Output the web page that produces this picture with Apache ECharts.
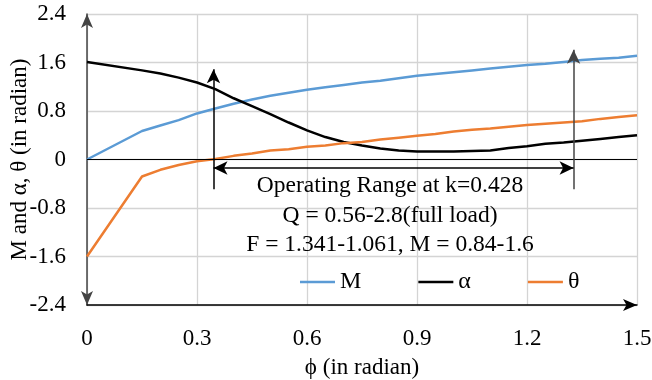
<!DOCTYPE html>
<html>
<head>
<meta charset="utf-8">
<script src="https://cdn.jsdelivr.net/npm/echarts@6/dist/echarts.min.js"></script>
<style>
html,body{margin:0;padding:0;background:#fff;}
#main{width:652px;height:380px;}
</style>
</head>
<body>
<div id="main"></div>
<script>
var phi = [0, 0.15, 0.2, 0.25, 0.3, 0.35, 0.4, 0.45, 0.5, 0.55, 0.6, 0.65, 0.7, 0.75, 0.8, 0.85, 0.9, 0.95, 1.0, 1.05, 1.1, 1.15, 1.2, 1.25, 1.3, 1.35, 1.4, 1.45, 1.5];
var mVals = [0, 0.47, 0.56, 0.65, 0.76, 0.84, 0.92, 0.99, 1.05, 1.10, 1.15, 1.19, 1.23, 1.27, 1.30, 1.34, 1.38, 1.41, 1.44, 1.47, 1.50, 1.53, 1.56, 1.58, 1.61, 1.64, 1.66, 1.68, 1.71];
var alphaVals = [1.61, 1.47, 1.42, 1.35, 1.27, 1.16, 1.01, 0.88, 0.75, 0.61, 0.48, 0.37, 0.29, 0.23, 0.18, 0.15, 0.13, 0.13, 0.13, 0.14, 0.15, 0.19, 0.22, 0.26, 0.28, 0.31, 0.34, 0.37, 0.40];
var thetaVals = [-1.6, -0.28, -0.17, -0.09, -0.03, 0.01, 0.06, 0.10, 0.15, 0.17, 0.21, 0.23, 0.27, 0.29, 0.33, 0.36, 0.39, 0.42, 0.46, 0.49, 0.51, 0.54, 0.57, 0.59, 0.61, 0.63, 0.67, 0.70, 0.73];

// operating range annotation (phi start/end, arrow levels)
var rangePhi = [0.345, 1.327];
var arrowBottom = -0.49;
var arrowTops = [1.49, 1.81];
var rangeLevel = -0.14;
var noteLines = ["Operating Range at k=0.428", "Q = 0.56-2.8(full load)", "F = 1.341-1.061, M = 0.84-1.6"];

var font = "'Liberation Serif', 'Times New Roman', serif";

function pairs(ys) {
    return phi.map(function (x, i) { return [x, ys[i]]; });
}

var chart = echarts.init(document.getElementById("main"));
chart.setOption({
    animation: false,
    grid: {
        left: 87,
        right: 15,
        top: 14,
        bottom: 75,
        outerBoundsMode: "none",
        containLabel: false
    },
    legend: {
        left: 295,
        top: 265,
        icon: "rect",
        itemWidth: 35,
        itemHeight: 2.5,
        itemGap: 57,
        textStyle: { fontFamily: font, fontSize: 24, color: "#000" },
        data: ["M", "α", "θ"]
    },
    xAxis: {
        type: "value",
        min: 0,
        max: 1.5,
        interval: 0.3,
        name: "ϕ (in radian)",
        nameLocation: "middle",
        nameGap: 51,
        nameMoveOverlap: false,
        nameTextStyle: { fontFamily: font, fontSize: 23, color: "#000" },
        axisLine: {
            onZero: false,
            symbol: ["none", "arrow"],
            symbolSize: [9, 14],
            lineStyle: { color: "#000", width: 1.5 }
        },
        axisTick: { show: false },
        axisLabel: { fontFamily: font, fontSize: 23, color: "#000", margin: 22 },
        splitLine: { lineStyle: { color: "#d4d4d4", width: 1.3 } }
    },
    yAxis: {
        type: "value",
        min: -2.4,
        max: 2.4,
        interval: 0.8,
        name: "M and α, θ (in radian)",
        nameLocation: "middle",
        nameGap: 56,
        nameMoveOverlap: false,
        nameTextStyle: { fontFamily: font, fontSize: 23, color: "#000" },
        axisLine: {
            show: true,
            onZero: false,
            symbol: ["arrow", "arrow"],
            symbolSize: [9, 14],
            lineStyle: { color: "#444", width: 1.5 }
        },
        axisTick: { show: false },
        axisLabel: { fontFamily: font, fontSize: 23, color: "#000", margin: 21 },
        splitLine: { lineStyle: { color: "#d4d4d4", width: 1.3 } }
    },
    series: [
        {
            name: "M",
            type: "line",
            data: pairs(mVals),
            showSymbol: false,
            lineStyle: { color: "#5B9BD5", width: 2.5 },
            itemStyle: { color: "#5B9BD5" }
        },
        {
            name: "α",
            type: "line",
            data: pairs(alphaVals),
            showSymbol: false,
            lineStyle: { color: "#000", width: 2.5 },
            itemStyle: { color: "#000" },
            markLine: {
                silent: true,
                symbol: "none",
                label: { show: false },
                lineStyle: { color: "#000", width: 1.2, type: "solid" },
                data: [[{ coord: [0, 0] }, { coord: [1.5, 0] }]]
            }
        },
        {
            name: "θ",
            type: "line",
            data: pairs(thetaVals),
            showSymbol: false,
            lineStyle: { color: "#ED7D31", width: 2.5 },
            itemStyle: { color: "#ED7D31" },
            markLine: {
                silent: true,
                symbol: ["none", "arrow"],
                symbolSize: [10, 14],
                label: { show: false },
                lineStyle: { color: "#000", width: 1.5, type: "solid" },
                data: [
                    [{ coord: [rangePhi[0], arrowBottom] }, { coord: [rangePhi[0], arrowTops[0]] }],
                    [{ coord: [rangePhi[1], arrowBottom], lineStyle: { color: "#444" } }, { coord: [rangePhi[1], arrowTops[1]] }],
                    [{ coord: [rangePhi[0], rangeLevel], symbol: "arrow" }, { coord: [rangePhi[1], rangeLevel] }]
                ]
            }
        }
    ],
    graphic: noteLines.map(function (t, i) {
        return {
            type: "text",
            x: 390,
            y: 186 + i * 29.5,
            style: { text: t, fontFamily: font, fontSize: 23.5, fill: "#000", align: "center", verticalAlign: "middle" },
            z: 100
        };
    })
});
</script>
</body>
</html>
